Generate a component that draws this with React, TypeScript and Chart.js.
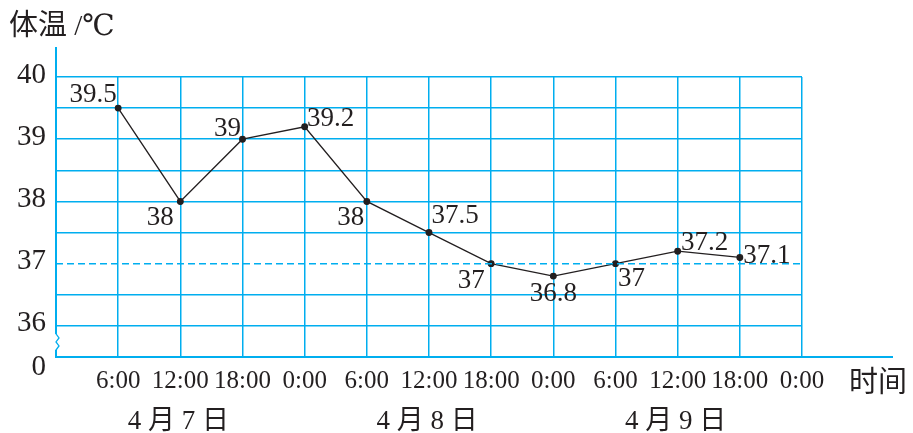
import React, { useEffect, useRef } from "react";
import { Chart, registerables } from "chart.js";

Chart.register(...registerables);

// ---- data ----
const timeTickLabels = ["", "6:00", "12:00", "18:00", "0:00", "6:00", "12:00", "18:00", "0:00", "6:00", "12:00", "18:00", "0:00"];
const timeIndex = [1, 2, 3, 4, 5, 6, 7, 8, 9, 10, 11];
const temperatures = [39.5, 38, 39, 39.2, 38, 37.5, 37, 36.8, 37, 37.2, 37.1];
const normalTemp = 37;
const dateLabels = ["4 月 7 日", "4 月 8 日", "4 月 9 日"];
const dateIndex = [2, 6, 10];
const yMin = 35.5;
const yMax = 40;
const xMax = 12;
const yBreakLabel = "0";

// ---- label placement (layout only) ----
const labelOffsets: [number, number][] = [
  [-25, -15],
  [-20, 15],
  [-15, -12],
  [26, -10],
  [-16, 15],
  [26, -19],
  [-20, 15],
  [0, 16],
  [16, 13],
  [27, -10],
  [27, -3],
];

const BLUE = "rgb(0,174,239)";
const INK = "#231f20";
const SERIF = '"Liberation Serif", "DejaVu Serif", "Noto Sans CJK SC", serif';

const extrasPlugin = {
  id: "extras",
  beforeDatasetsDraw(chart: any) {
    const { ctx, chartArea, scales } = chart;
    ctx.save();
    ctx.strokeStyle = BLUE;
    ctx.lineWidth = 2;
    // y axis extension
    ctx.beginPath();
    ctx.moveTo(chartArea.left, chartArea.top);
    ctx.lineTo(chartArea.left, chartArea.top - 30);
    ctx.stroke();
    // x axis extension
    ctx.beginPath();
    ctx.moveTo(chartArea.right, chartArea.bottom);
    ctx.lineTo(chartArea.right + 91, chartArea.bottom);
    ctx.stroke();
    // break zigzag
    const x0 = chartArea.left;
    const yA = scales.y.getPixelForValue(36) + 8;
    const yB = chartArea.bottom - 7;
    ctx.strokeStyle = "#fff";
    ctx.lineWidth = 4;
    ctx.beginPath();
    ctx.moveTo(x0, yA);
    ctx.lineTo(x0, yB);
    ctx.stroke();
    ctx.strokeStyle = BLUE;
    ctx.lineWidth = 1.3;
    ctx.beginPath();
    ctx.moveTo(x0, yA - 2);
    const steps = 4;
    for (let i = 0; i <= steps; i++) {
      const yy = yA + ((yB - yA) * i) / steps;
      ctx.lineTo(x0 + (i % 2 === 0 ? 0 : 3), yy);
    }
    ctx.lineTo(x0, yB + 2);
    ctx.stroke();

    // texts
    ctx.fillStyle = INK;
    ctx.textBaseline = "alphabetic";
    ctx.textAlign = "left";
    ctx.font = `29px ${SERIF}`;
    ctx.fillText("体温 /℃", 9, 35);
    ctx.font = `29px ${SERIF}`;
    ctx.fillText("时间", 849, 392);
    // y-axis "0" below the break
    ctx.textAlign = "right";
    ctx.font = `29px ${SERIF}`;
    ctx.fillText(yBreakLabel, 46, 375);
    ctx.textAlign = "center";
    ctx.font = `27px ${SERIF}`;
    dateLabels.forEach((d, i) => {
      ctx.fillText(d, scales.x.getPixelForValue(dateIndex[i]) - 2, 429);
    });
    ctx.restore();
  },
  afterDatasetsDraw(chart: any) {
    const { ctx } = chart;
    const meta = chart.getDatasetMeta(1);
    ctx.save();
    ctx.fillStyle = INK;
    ctx.font = `27px ${SERIF}`;
    ctx.textAlign = "center";
    ctx.textBaseline = "alphabetic";
    meta.data.forEach((pt: any, i: number) => {
      const [dx, dy] = labelOffsets[i];
      ctx.fillText(String(temperatures[i]), pt.x + dx, pt.y + dy + 9);
    });
    ctx.restore();
  },
};

export default function App() {
  const ref = useRef<HTMLCanvasElement | null>(null);
  useEffect(() => {
    if (!ref.current) return;
    const chart = new Chart(ref.current, {
      type: "line",
      data: {
        datasets: [
          {
            data: [
              { x: 0, y: normalTemp },
              { x: xMax, y: normalTemp },
            ],
            borderColor: BLUE,
            borderWidth: 1.5,
            borderDash: [7, 4],
            pointRadius: 0,
          },
          {
            data: timeIndex.map((x, i) => ({ x, y: temperatures[i] })),
            borderColor: INK,
            borderWidth: 1.3,
            pointRadius: 2.8,
            pointBackgroundColor: INK,
            pointBorderColor: INK,
            tension: 0,
          },
        ],
      },
      options: {
        animation: false,
        responsive: false,
        devicePixelRatio: 1,
        layout: { padding: { top: 77, right: 111, left: 0, bottom: 0 } },
        plugins: { legend: { display: false }, tooltip: { enabled: false }, title: { display: false } },
        scales: {
          x: {
            type: "linear",
            min: 0,
            max: xMax,
            afterFit: (s: any) => {
              s.height = 76;
            },
            ticks: {
              stepSize: 1,
              autoSkip: false,
              maxRotation: 0,
              color: INK,
              padding: 9,
              font: { family: SERIF, size: 25 },
              callback: (v: any) => timeTickLabels[Math.round(Number(v))] ?? "",
            },
            grid: { color: BLUE, lineWidth: 1.5, drawTicks: false },
            border: { color: BLUE, width: 2 },
          },
          y: {
            type: "linear",
            min: yMin,
            max: yMax,
            afterFit: (s: any) => {
              s.width = 56;
            },
            ticks: {
              stepSize: 0.5,
              autoSkip: false,
              color: INK,
              padding: 10,
              labelOffset: -2,
              font: { family: SERIF, size: 29 },
              callback: (v: any) => {
                const n = Number(v);
                return Number.isInteger(n) ? String(n) : "";
              },
            },
            grid: {
              color: (c: any) => (c.tick && Math.abs(c.tick.value - normalTemp) < 1e-6 ? "rgba(0,0,0,0)" : BLUE),
              lineWidth: 1.5,
              drawTicks: false,
            },
            border: { color: BLUE, width: 2 },
          },
        },
      },
      plugins: [extrasPlugin],
    } as any);
    return () => chart.destroy();
  }, []);
  return (
    <div style={{ position: "fixed", left: 0, top: 0, width: 913, height: 433, background: "#fff" }}>
      <canvas ref={ref} width={913} height={433} style={{ width: 913, height: 433, display: "block" }} />
    </div>
  );
}
